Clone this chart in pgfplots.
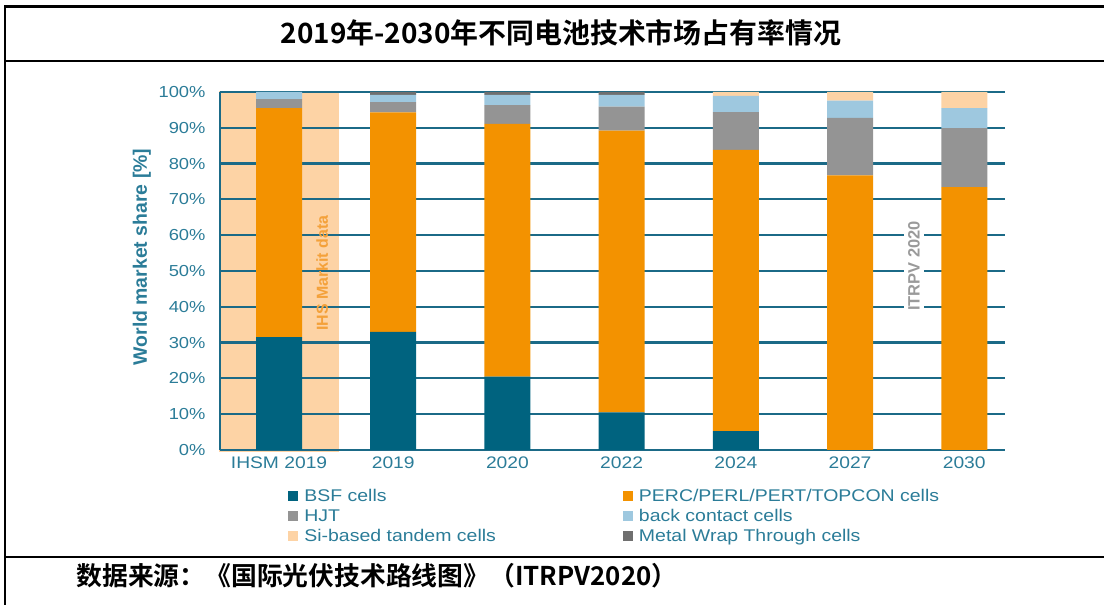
\documentclass[border=0pt]{standalone}
\usepackage{fontspec}
\usepackage{pgfplots}
\pgfplotsset{compat=1.18}
\setmainfont{Liberation Sans}
\newfontfamily\sx[FakeStretch=1.15]{Liberation Sans}
\newfontfamily\cjk{Noto Sans CJK SC}[BoldFont={* Bold}]
\definecolor{bsf}{HTML}{00637F}
\definecolor{perc}{HTML}{F39200}
\definecolor{hjt}{HTML}{949494}
\definecolor{bc}{HTML}{9EC8DF}
\definecolor{tandem}{HTML}{FDD3A5}
\definecolor{mwt}{HTML}{6F6F6F}
\definecolor{gridc}{HTML}{1B6A87}
\definecolor{txt}{HTML}{2B7C98}
\definecolor{ihs}{HTML}{F4A13A}
\definecolor{itr}{HTML}{9A9A9A}
\pgfplotsset{geom/.style={at={(220bp,155bp)}, anchor=south west,
  width=785bp, height=358bp, scale only axis,
  xmin=-0.517, xmax=6.357, ymin=0, ymax=100}}
\begin{document}
\begin{tikzpicture}[x=1bp,y=1bp]
\useasboundingbox (0,0) rectangle (1104,605);
% frame
\draw[line width=2.5bp] (5,0) -- (5,598.5) -- (1104,598.5);
\draw[line width=2.5bp] (5,544) -- (1104,544);
\draw[line width=2.5bp] (5,48) -- (1104,48);
\node[font=\cjk\bfseries\fontsize{28}{30}\selectfont] at (561,572) {2019年-2030年不同电池技术市场占有率情况};
\node[anchor=west,font=\cjk\bfseries\fontsize{25.9}{27}\selectfont] at (73,29) {数据来源：《国际光伏技术路线图》（ITRPV2020）};
\begin{axis}[geom, hide axis, clip=false]
\fill[tandem] (axis cs:-0.523,-0.6) rectangle (axis cs:0.523,100.4);
\end{axis}
\begin{axis}[
  geom,
  ybar stacked, bar width=46bp,
  xtick={0,...,6},
  xticklabels={IHSM 2019,2019,2020,2022,2024,2027,2030},
  ytick={0,10,...,100},
  yticklabel={\pgfmathprintnumber{\tick}\%},
  /pgf/number format/assume math mode=true,
  major tick length=0pt,
  axis x line*=bottom, axis y line*=left,
  axis line style={draw=gridc, line width=2.2bp, -},
  ymajorgrids, grid style={draw=gridc, line width=2.2bp},
  ticklabel style={text=txt},
  yticklabel style={font=\sx\fontsize{16}{18}\selectfont, xshift=-11bp},
  xticklabel style={font=\sx\fontsize{16.8}{18}\selectfont, yshift=-3bp},
  ylabel={World market share [\%]},
  ylabel style={font=\bfseries\fontsize{19.5}{21}\selectfont, text=txt, at={(axis description cs:-0.0994,0.539)}, anchor=center},
  legend columns=2,
  legend cell align=left,
  legend style={draw=none, fill=none, at={(axis description cs:0.083,-0.1)}, anchor=north west,
    font=\sx\fontsize{17}{19}\selectfont, text=txt,
    nodes={inner xsep=1bp, inner ysep=1.5bp},
    /tikz/every even column/.append style={column sep=126bp},
    row sep=3bp},
  legend image code/.code={\fill[#1] (0bp,-5bp) rectangle (10bp,5bp); \path (15bp,0bp);},
]
\addplot[fill=bsf, draw=none] coordinates {(0,31.5) (1,33.0) (2,20.5) (3,10.5) (4,5.3) (5,0) (6,0)};
\addplot[fill=perc, draw=none] coordinates {(0,64.0) (1,61.3) (2,70.6) (3,78.7) (4,78.5) (5,76.7) (6,73.4)};
\addplot[fill=hjt, draw=none] coordinates {(0,2.5) (1,2.9) (2,5.2) (3,6.7) (4,10.6) (5,16.1) (6,16.5)};
\addplot[fill=bc, draw=none] coordinates {(0,2.0) (1,2.0) (2,2.9) (3,3.3) (4,4.5) (5,4.8) (6,5.6)};
\addplot[fill=tandem, draw=none] coordinates {(0,0) (1,0) (2,0) (3,0) (4,1.1) (5,2.4) (6,4.5)};
\addplot[fill=mwt, draw=none] coordinates {(0,0) (1,0.8) (2,0.8) (3,0.8) (4,0) (5,0) (6,0)};
\legend{BSF cells, PERC/PERL/PERT/TOPCON cells, HJT, back contact cells, Si-based tandem cells, Metal Wrap Through cells}
\node[rotate=90, text=ihs, font=\bfseries\fontsize{16}{18}\selectfont] at (axis cs:0.377,49.4) {IHS Markit data};
\node[rotate=90, text=itr, fill=white, inner xsep=2bp, inner ysep=4bp, font=\bfseries\fontsize{16.5}{18}\selectfont] at (axis cs:5.56,51.4) {ITRPV 2020};
\end{axis}
\end{tikzpicture}
\end{document}
